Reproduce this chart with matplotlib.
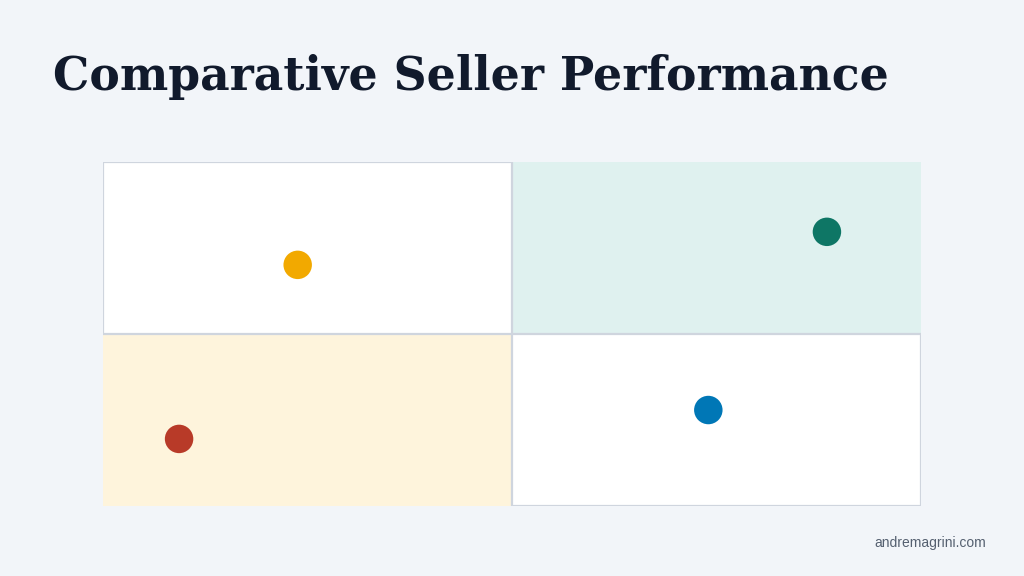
import matplotlib
matplotlib.use("Agg")
import matplotlib.pyplot as plt
from matplotlib.patches import Rectangle

# data
sellers = ["Seller A", "Seller B", "Seller C", "Seller D"]
x_vals = [23.8, 88.5, 9.3, 74.0]
y_vals = [70.1, 79.7, 19.5, 27.9]
colors = ["#f2a900", "#0e7665", "#b83a28", "#0077b6"]
x_mid = 50
y_mid = 50

BG = "#f2f5f9"
fig = plt.figure(figsize=(10.24, 5.76), dpi=100, facecolor=BG)
ax = fig.add_axes([103/1024, 70/576, 818/1024, 344/576])
ax.set_xlim(0, 100)
ax.set_ylim(0, 100)
ax.set_facecolor("none")
for s in ax.spines.values():
    s.set_visible(False)
ax.set_xticks([])
ax.set_yticks([])

border = "#cfd5de"
# quadrants
ax.add_patch(Rectangle((x_mid, y_mid), 100 - x_mid, 100 - y_mid, facecolor="#dff1ef", edgecolor="none", zorder=1))
ax.add_patch(Rectangle((0, 0), x_mid, y_mid, facecolor="#fef4dc", edgecolor="none", zorder=1))
ax.add_patch(Rectangle((0, y_mid), x_mid, 100 - y_mid, facecolor="white", edgecolor=border, lw=1.6, zorder=2))
ax.add_patch(Rectangle((x_mid, 0), 100 - x_mid, y_mid, facecolor="white", edgecolor=border, lw=1.6, zorder=2))

ax.scatter(x_vals, y_vals, s=420, c=colors, edgecolors="none", zorder=5, clip_on=False)

# title
t = fig.text(53/1024, 1 - 90/576, "Comparative Seller Performance", fontsize=36,
             fontweight="bold", family=["DejaVu Serif"], color="#111a2c", va="baseline", ha="left")
fig.canvas.draw()
w = t.get_window_extent().width
t.set_fontsize(36 * 836 / w)

fig.text(986/1024, 1 - 547/576, "andremagrini.com", fontsize=10, family=["Liberation Sans"],
         color="#556070", ha="right", va="baseline")

fig.savefig("out.png", dpi=100, facecolor=BG)
